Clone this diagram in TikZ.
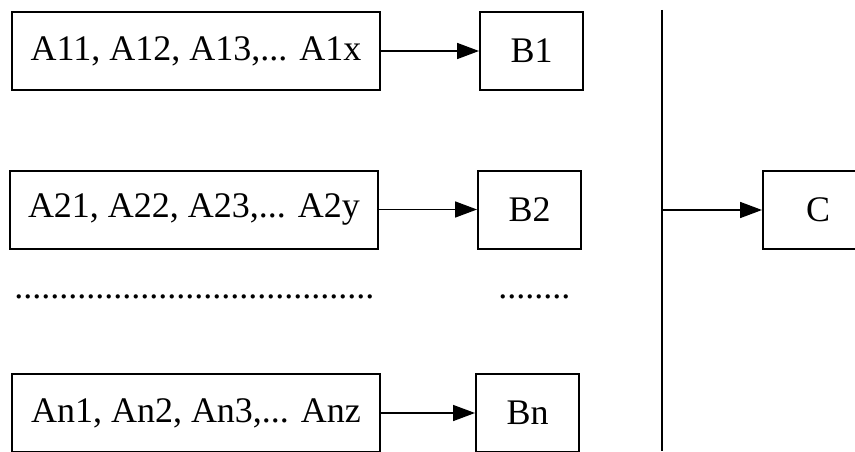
\documentclass[tikz,border=0pt]{standalone}
\usepackage{fontspec}
\setmainfont{Liberation Serif}
\usetikzlibrary{arrows.meta}
\newcommand{\grpxa}{98pt}
\newcommand{\grpxb}{264.75pt}
\newcommand{\grpxbus}{331pt}
\newcommand{\grpxc}{416.5pt}
\newcommand{\grpya}{200pt}
\newcommand{\grpyb}{120.75pt}
\newcommand{\grpydot}{76.5pt}
\newcommand{\grpyn}{19pt}
\newcommand{\grpwa}{184pt}
\newcommand{\grpwb}{51.5pt}
\newcommand{\grph}{39pt}
\tikzset{
  grpbox/.style={draw,line width=1pt,minimum height=\grph,inner sep=0pt},
  grpabox/.style={grpbox,minimum width=\grpwa},
  grpbbox/.style={grpbox,minimum width=\grpwb},
  grparrow/.style={line width=0.8pt,-{Triangle[length=11pt,width=8pt]}}
}

\begin{document}
\begin{tikzpicture}[font=\fontsize{18}{20}\selectfont]
    \useasboundingbox (0,0) rectangle (427.5pt,225.5pt);
    \clip (0,0) rectangle (427.5pt,225.5pt);

    \node (aone) at (\grpxa, \grpya) [grpabox] {A11, A12, A13,... A1x};
    \node (atwo) at (\grpxa - 1pt, \grpyb) [grpabox] {A21, A22, A23,... A2y};
    \node (an) at (\grpxa, \grpyn) [grpabox] {An1, An2, An3,... Anz};

    \node (bone) at (\grpxb + 1pt, \grpya) [grpbbox] {B1};
    \node (btwo) at (\grpxb, \grpyb) [grpbbox] {B2};
    \node (bn) at (\grpxb - 1pt, \grpyn) [grpbbox] {Bn};

    \node (adots) at (7pt, \grpydot) [anchor=base west,inner sep=0pt]
      {........................................};
    \node (bdots) at (249pt, \grpydot) [anchor=base west,inner sep=0pt]
      {........};

    \node (cnode) at (\grpxc, 120.5pt) [grpbox,minimum width=70pt] {};
    \node (clabel) at (409pt, 120.5pt) {C};

    \coordinate (bustop) at (\grpxbus, 220.5pt);
    \coordinate (busbot) at (\grpxbus, 0pt);
    \coordinate (busc) at (\grpxbus, 120.5pt);

    \draw[line width=1.2pt] (bustop) -- (busbot);
    \draw[grparrow] (aone) -- (bone);
    \draw[grparrow] (atwo) -- (btwo);
    \draw[grparrow] (an) -- (bn);
    \draw[grparrow] (busc) -- (cnode);
  \end{tikzpicture}
\end{document}
